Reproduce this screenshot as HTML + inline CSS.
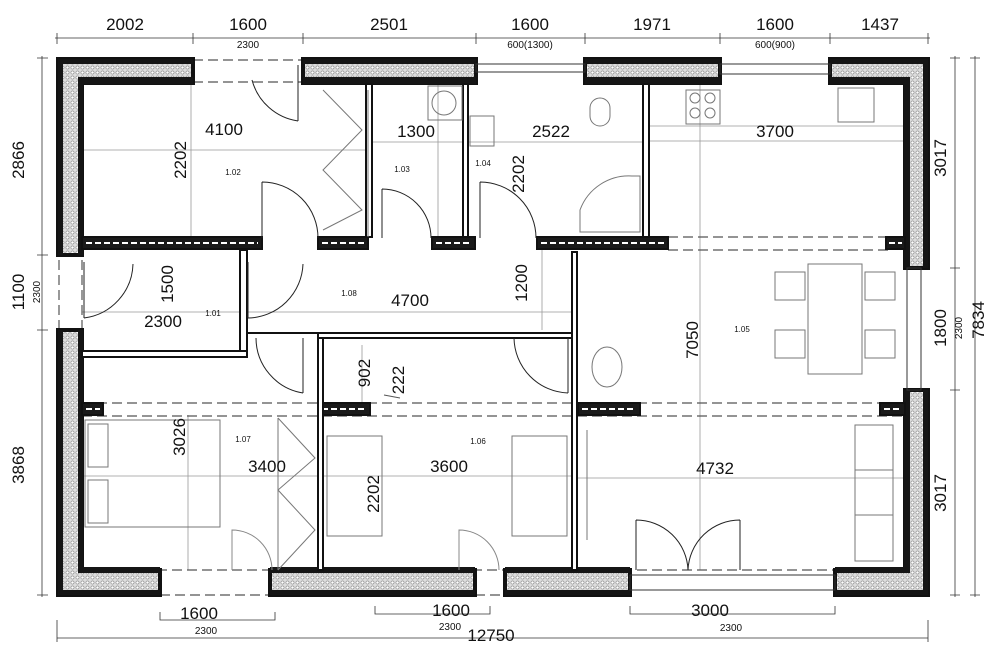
<!DOCTYPE html>
<html><head><meta charset="utf-8"><style>
html,body{margin:0;padding:0;background:#fff}
svg{display:block}
text{font-family:"Liberation Sans",sans-serif;fill:#111}
.b{font-size:17px}.s{font-size:10px}.r{font-size:8px}
</style></head><body>
<svg width="1000" height="653" viewBox="0 0 1000 653" xmlns="http://www.w3.org/2000/svg">
<defs>
<pattern id="ins" width="5" height="5" patternUnits="userSpaceOnUse"><rect width="5" height="5" fill="#ddd"/><circle cx="2.5" cy="2.5" r="1.6" fill="#fff" stroke="#888" stroke-width="0.6"/></pattern>
</defs>
<g stroke="#999" stroke-width="0.8" fill="none">
<line x1="82" y1="150" x2="368" y2="150"/><line x1="650" y1="126" x2="905" y2="126"/><line x1="650" y1="141" x2="905" y2="141"/>
<line x1="191" y1="84" x2="191" y2="237"/><line x1="373" y1="142" x2="645" y2="142"/>
<line x1="82" y1="312" x2="572" y2="312"/><line x1="542" y1="250" x2="542" y2="330"/>
<line x1="700" y1="84" x2="700" y2="570"/><line x1="578" y1="478" x2="905" y2="478"/>
<line x1="82" y1="476" x2="572" y2="476"/><line x1="188" y1="415" x2="188" y2="570"/>
<line x1="362" y1="345" x2="362" y2="415"/><line x1="438" y1="84" x2="438" y2="237"/>
</g>
<g stroke="#555" stroke-width="1.2" stroke-dasharray="10,5" fill="none">
<line x1="193" y1="60" x2="303" y2="60"/><line x1="193" y1="82" x2="303" y2="82"/>
<line x1="668" y1="237" x2="888" y2="237"/><line x1="668" y1="250" x2="888" y2="250"/>
<line x1="82" y1="403" x2="905" y2="403"/><line x1="82" y1="416" x2="905" y2="416"/>
<line x1="82" y1="570" x2="905" y2="570"/><line x1="160" y1="595" x2="505" y2="595"/>
<line x1="59" y1="260" x2="59" y2="330"/><line x1="82" y1="260" x2="82" y2="330"/>
</g>
<!-- outer walls -->
<g fill="url(#ins)" stroke="#111" stroke-width="4">
<path d="M58 59 H193 V83 H82 V255 H58 Z"/>
<rect x="303" y="59" width="173" height="24"/>
<rect x="585" y="59" width="135" height="24"/>
<path d="M830 59 H928 V268 H905 V83 H830 Z"/>
<path d="M58 330 H82 V570 H160 V595 H58 Z"/>
<rect x="270" y="570" width="205" height="25"/>
<rect x="505" y="570" width="125" height="25"/>
<path d="M905 390 H928 V595 H835 V570 H905 Z"/>
</g>
<!-- inner black bands -->
<g fill="#151515">
<rect x="58" y="59" width="135" height="5"/><rect x="303" y="59" width="173" height="5"/><rect x="585" y="59" width="135" height="5"/><rect x="830" y="59" width="98" height="5"/>
<rect x="82" y="77" width="111" height="7"/><rect x="303" y="77" width="173" height="7"/><rect x="585" y="77" width="135" height="7"/><rect x="830" y="77" width="75" height="7"/>
<rect x="78" y="77" width="5" height="178"/><rect x="78" y="330" width="5" height="240"/>
<rect x="904" y="77" width="6" height="191"/><rect x="904" y="390" width="6" height="180"/>
<rect x="58" y="59" width="5" height="196"/><rect x="58" y="330" width="5" height="265"/>
<rect x="923" y="59" width="5" height="209"/><rect x="923" y="390" width="5" height="205"/>
<rect x="78" y="567" width="82" height="6"/><rect x="270" y="567" width="205" height="6"/><rect x="505" y="567" width="125" height="6"/><rect x="835" y="567" width="75" height="6"/>
<rect x="58" y="590" width="102" height="5"/><rect x="270" y="590" width="205" height="5"/><rect x="505" y="590" width="125" height="5"/><rect x="835" y="590" width="93" height="5"/>
</g>
<g stroke="#333" stroke-width="1" fill="none">
<rect x="476" y="64" width="109" height="8"/><rect x="720" y="64" width="110" height="10"/>
<rect x="907" y="268" width="14" height="122"/><rect x="630" y="575" width="205" height="15"/>
</g>
<!-- interior thick walls -->
<g fill="#1a1a1a" stroke="#111" stroke-width="2">
<rect x="82" y="237" width="180" height="12"/><rect x="318" y="237" width="50" height="12"/>
<rect x="432" y="237" width="43" height="12"/><rect x="537" y="237" width="131" height="12"/>
<rect x="886" y="237" width="19" height="12"/>
<rect x="82" y="403" width="21" height="12"/><rect x="318" y="403" width="52" height="12"/>
<rect x="578" y="403" width="62" height="12"/><rect x="880" y="403" width="25" height="12"/>
</g>
<g stroke="#fff" stroke-width="2" stroke-dasharray="6,3">
<line x1="86" y1="243" x2="258" y2="243"/><line x1="322" y1="243" x2="364" y2="243"/><line x1="436" y1="243" x2="471" y2="243"/><line x1="541" y1="243" x2="664" y2="243"/><line x1="322" y1="409" x2="366" y2="409"/><line x1="582" y1="409" x2="636" y2="409"/><line x1="86" y1="409" x2="100" y2="409"/><line x1="884" y1="409" x2="902" y2="409"/><line x1="889" y1="243" x2="902" y2="243"/>
</g>
<g fill="#fff" stroke="#111" stroke-width="2">
<rect x="366" y="84" width="6" height="153"/><rect x="463" y="84" width="5" height="153"/><rect x="643" y="84" width="6" height="153"/>
<rect x="240" y="250" width="7" height="107"/><rect x="82" y="351" width="165" height="6"/>
<rect x="318" y="333" width="254" height="5"/><rect x="318" y="338" width="5" height="232"/>
<rect x="572" y="252" width="5" height="318"/>
</g>
<line x1="247" y1="333" x2="318" y2="333" stroke="#111" stroke-width="2"/>
<g stroke="#222" stroke-width="1" fill="none">
<path d="M262 182 V238 M262 182 A56 56 0 0 1 318 238"/>
<path d="M382 189 V238 M382 189 A49 49 0 0 1 431 238"/>
<path d="M480 182 V238 M480 182 A56 56 0 0 1 536 238"/>
<path d="M298 65 V121 M298 121 A56 56 0 0 1 252 80"/>
<path d="M84 262 L84 318 M84 318 A56 56 0 0 0 133 264"/>
<path d="M248 262 V318 M248 318 A56 56 0 0 0 303 264"/>
<path d="M256 338 A56 56 0 0 0 303 393 M303 338 V393"/>
<path d="M514 338 A56 56 0 0 0 568 393 M568 338 V393"/>
<path d="M636 520 A52 52 0 0 1 688 570 M636 520 V570"/>
<path d="M740 520 A52 52 0 0 0 688 570 M740 520 V570"/>
<path d="M232 570 V530 A40 40 0 0 1 272 570" stroke="#888"/>
<path d="M459 570 V530 A40 40 0 0 1 499 570" stroke="#888"/>
</g>
<g stroke="#777" stroke-width="1" fill="none">
<path d="M323 90 L362 130 L323 170 L362 210 L323 230 M368 90 V237"/>
<path d="M278 418 L315 458 L278 490 L315 530 L278 570 M278 418 V570"/>
<rect x="428" y="86" width="34" height="34"/><circle cx="444" cy="103" r="12"/>
<rect x="470" y="116" width="24" height="30"/><rect x="590" y="98" width="20" height="28" rx="10"/>
<path d="M580 232 V210 A52 52 0 0 1 632 176 H640 V232 Z"/>
<rect x="686" y="90" width="34" height="34"/><circle cx="695" cy="98" r="5"/><circle cx="710" cy="98" r="5"/><circle cx="695" cy="113" r="5"/><circle cx="710" cy="113" r="5"/>
<rect x="838" y="88" width="36" height="34"/>
<rect x="808" y="264" width="54" height="110"/>
<rect x="775" y="272" width="30" height="28"/><rect x="865" y="272" width="30" height="28"/>
<rect x="775" y="330" width="30" height="28"/><rect x="865" y="330" width="30" height="28"/>
<ellipse cx="607" cy="367" rx="15" ry="20"/>
<rect x="85" y="420" width="135" height="107"/><rect x="88" y="424" width="20" height="43"/><rect x="88" y="480" width="20" height="43"/>
<rect x="327" y="436" width="55" height="100"/><rect x="512" y="436" width="55" height="100"/>
<rect x="855" y="425" width="38" height="136"/><line x1="855" y1="470" x2="893" y2="470"/><line x1="855" y1="515" x2="893" y2="515"/>
<line x1="587" y1="430" x2="587" y2="540"/>
</g>
<g stroke="#333" stroke-width="0.8" fill="none">
<line x1="55" y1="38" x2="930" y2="38"/>
<path d="M57 33V44M193 33V44M303 33V44M476 33V44M585 33V44M720 33V44M830 33V44M928 33V44"/>
<line x1="42" y1="56" x2="42" y2="597"/>
<path d="M37 58H48M37 255H48M37 330H48M37 595H48"/>
<line x1="955" y1="56" x2="955" y2="597"/><line x1="975" y1="56" x2="975" y2="597"/>
<path d="M950 58H960M950 268H960M950 390H960M950 595H960M970 58H980M970 595H980"/>
<line x1="57" y1="638" x2="928" y2="638"/><path d="M57 620V642M928 620V642"/>
<path d="M160 612V620H275V612M375 606V614H490V606M630 606V614H835V606"/>
</g>
<g class="b" text-anchor="middle">
<text x="125" y="30">2002</text><text x="248" y="30">1600</text><text x="389" y="30">2501</text><text x="530" y="30">1600</text><text x="652" y="30">1971</text><text x="775" y="30">1600</text><text x="880" y="30">1437</text>
<text x="224" y="135">4100</text><text x="416" y="137">1300</text><text x="551" y="137">2522</text><text x="775" y="137">3700</text>
<text x="410" y="306">4700</text><text x="163" y="327">2300</text>
<text x="267" y="472">3400</text><text x="449" y="472">3600</text><text x="715" y="474">4732</text>
<text x="199" y="619">1600</text><text x="451" y="616">1600</text><text x="710" y="616">3000</text><text x="491" y="641">12750</text>
</g>
<g class="b" text-anchor="middle">
<text transform="translate(186,160) rotate(-90)">2202</text>
<text transform="translate(524,174) rotate(-90)">2202</text>
<text transform="translate(173,284) rotate(-90)">1500</text>
<text transform="translate(527,283) rotate(-90)">1200</text>
<text transform="translate(698,340) rotate(-90)">7050</text>
<text transform="translate(370,373) rotate(-90)">902</text>
<text transform="translate(404,380) rotate(-90)">222</text>
<text transform="translate(185,437) rotate(-90)">3026</text>
<text transform="translate(379,494) rotate(-90)">2202</text>
<text transform="translate(24,160) rotate(-90)">2866</text>
<text transform="translate(24,292) rotate(-90)">1100</text>
<text transform="translate(24,465) rotate(-90)">3868</text>
<text transform="translate(946,158) rotate(-90)">3017</text>
<text transform="translate(946,493) rotate(-90)">3017</text>
<text transform="translate(946,328) rotate(-90)">1800</text>
<text transform="translate(984,320) rotate(-90)">7834</text>
</g>
<g class="s" text-anchor="middle">
<text x="248" y="48">2300</text><text x="530" y="48">600(1300)</text><text x="775" y="48">600(900)</text>
<text x="206" y="634">2300</text><text x="450" y="630">2300</text><text x="731" y="631">2300</text>
<text transform="translate(40,292) rotate(-90)">2300</text>
<text transform="translate(962,328) rotate(-90)">2300</text>
</g>
<g class="r" text-anchor="middle">
<text x="233" y="175">1.02</text><text x="402" y="172">1.03</text><text x="483" y="166">1.04</text><text x="349" y="296">1.08</text><text x="213" y="316">1.01</text><text x="742" y="332">1.05</text><text x="243" y="442">1.07</text><text x="478" y="444">1.06</text>
</g>
<line x1="384" y1="395" x2="400" y2="398" stroke="#555"/>
</svg>
</body></html>
